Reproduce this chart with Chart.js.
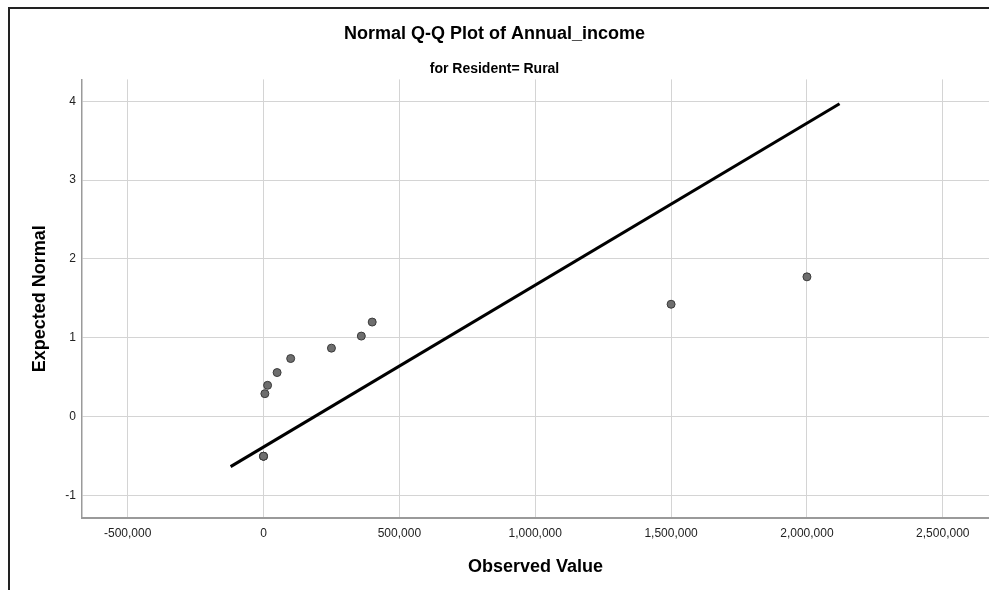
<!DOCTYPE html>
<html>
<head>
<meta charset="utf-8">
<title>Normal Q-Q Plot of Annual_income</title>
<script src="https://cdn.jsdelivr.net/npm/chart.js@4/dist/chart.umd.min.js"></script>
<style>
    html, body { margin: 0; padding: 0; background: #fff; }
    #wrap { position: relative; width: 989px; height: 590px; overflow: hidden; }
    #frame {
        position: absolute; left: 8px; top: 7px; width: 1000px; height: 600px;
        border-left: 2px solid #222; border-top: 2px solid #222;
        pointer-events: none;
    }
</style>
</head>
<body>
<div id="wrap">
    <canvas id="myChart" width="989" height="590"></canvas>
    <div id="frame"></div>
</div>
<script>
const observed = [0, 0, 0, 5000, 15000, 50000, 100000, 250000, 360000, 400000, 1500000, 2000000];
const expected = [-0.505, -0.505, -0.505, 0.289, 0.395, 0.557, 0.735, 0.867, 1.020, 1.198, 1.424, 1.772];

// Reference line end points
const lineX = [-121000, 2120000];
const lineY = [-0.637, 3.969];

// Axis ticks
const xTicks = [-500000, 0, 500000, 1000000, 1500000, 2000000, 2500000];
const yTicks = [-1, 0, 1, 2, 3, 4];

const fontFamily = "'Liberation Sans', Arial, sans-serif";

const points = observed.map((x, i) => ({ x: x, y: expected[i] }));
const refLine = lineX.map((x, i) => ({ x: x, y: lineY[i] }));

const ctx = document.getElementById('myChart').getContext('2d');

window.myChart = new Chart(ctx, {
    type: 'scatter',
    data: {
        datasets: [{
            label: 'Observed',
            data: points,
            backgroundColor: '#6e6e6e',
            borderColor: '#3a3a3a',
            borderWidth: 1,
            pointRadius: 4,
            order: 1
        }, {
            type: 'line',
            label: 'Reference',
            data: refLine,
            borderColor: '#000',
            borderWidth: 3,
            pointRadius: 0,
            fill: false,
            order: 2
        }]
    },
    options: {
        responsive: false,
        animation: false,
        layout: { padding: 0, autoPadding: false },
        plugins: {
            legend: { display: false },
            tooltip: { enabled: false },
            title: {
                display: true,
                text: 'Normal Q-Q Plot of Annual_income',
                color: '#000',
                font: { family: fontFamily, size: 18, weight: 'bold' },
                padding: { top: 23, bottom: 16 }
            },
            subtitle: {
                display: true,
                text: 'for Resident= Rural',
                color: '#000',
                font: { family: fontFamily, size: 14, weight: 'bold' },
                padding: { top: 0, bottom: 2 }
            }
        },
        scales: {
            x: {
                type: 'linear',
                min: -668000,
                max: 2670000,
                afterFit: scale => {
                    scale.height = 72;
                    scale.paddingLeft = 0;
                    scale.paddingRight = 0;
                },
                afterBuildTicks: scale => { scale.ticks = xTicks.map(v => ({ value: v })); },
                grid: { color: '#d4d4d4', lineWidth: 1, drawTicks: false },
                border: { color: '#9a9a9a', width: 2 },
                ticks: {
                    color: '#222',
                    padding: 8,
                    maxRotation: 0,
                    font: { family: fontFamily, size: 12 },
                    callback: value => value.toLocaleString('en-US')
                },
                title: {
                    display: true,
                    text: 'Observed Value',
                    color: '#000',
                    font: { family: fontFamily, size: 18, weight: 'bold' },
                    padding: { top: 0, bottom: 12 }
                }
            },
            y: {
                type: 'linear',
                min: -1.289,
                max: 4.278,
                afterFit: scale => {
                    scale.width = 82;
                    scale.paddingTop = 0;
                    scale.paddingBottom = 0;
                },
                afterBuildTicks: scale => { scale.ticks = yTicks.map(v => ({ value: v })); },
                grid: { color: '#d4d4d4', lineWidth: 1, drawTicks: false },
                border: { color: '#9a9a9a', width: 1.5 },
                ticks: {
                    color: '#222',
                    padding: 6,
                    font: { family: fontFamily, size: 12 },
                    callback: value => String(value)
                },
                title: {
                    display: true,
                    text: 'Expected Normal',
                    color: '#000',
                    font: { family: fontFamily, size: 18, weight: 'bold' },
                    padding: { top: 29, bottom: 0 }
                }
            }
        }
    }
});
</script>
</body>
</html>
